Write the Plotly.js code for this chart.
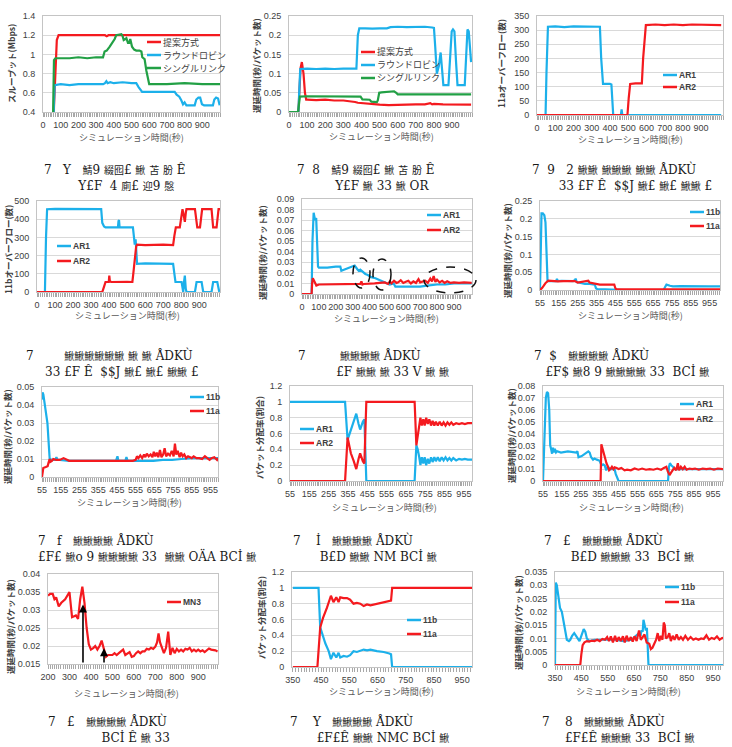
<!DOCTYPE html>
<html>
<head>
<meta charset="utf-8">
<script src="https://cdn.plot.ly/plotly-3.0.1.min.js"></script>
<style>html,body{margin:0;padding:0;background:#fff}#chart{width:732px;height:747px}</style>
</head>
<body>
<div id="chart"></div>
<script>
// ---------- series names ----------
const NAME_PROPOSED = '提案方式';
const NAME_RR = 'ラウンドロビン';
const NAME_SINGLE = 'シングルリンク';
const NAME_AR1 = 'AR1', NAME_AR2 = 'AR2', NAME_11B = '11b', NAME_11A = '11a', NAME_MN3 = 'MN3';

// ---------- tick labels ----------
const TICKS_0 = [0, 100, 200, 300, 400, 500, 600, 700, 800, 900];
const TICKS_55 = [55, 155, 255, 355, 455, 555, 655, 755, 855, 955];
const TICKS_200 = [200, 300, 400, 500, 600, 700, 800, 900];
const TICKS_350 = [350, 450, 550, 650, 750, 850, 950];

// ---------- (a) throughput [time(s), Mbps] ----------
const thrProposed = [[0,0],[58,0],[62,0.45],[70,0.9],[78,1.15],[88,1.2],[150,1.2],[200,1.2],[250,1.2],[300,1.2],[350,1.2],[360,1.19],[370,1.2],[400,1.2],[500,1.2],[600,1.2],[700,1.2],[800,1.2],[900,1.2],[1000,1.2]];
const thrRoundRobin = [[0,0],[57,0],[62,0.5],[66,0.68],[100,0.69],[150,0.68],[200,0.69],[250,0.69],[300,0.69],[340,0.69],[350,0.7],[358,0.72],[365,0.7],[380,0.71],[400,0.7],[450,0.71],[500,0.7],[527,0.7],[540,0.66],[550,0.63],[560,0.61],[600,0.61],[650,0.61],[700,0.61],[744,0.61],[755,0.58],[770,0.56],[782,0.52],[791,0.48],[800,0.5],[810,0.47],[830,0.47],[857,0.47],[866,0.53],[878,0.55],[888,0.55],[898,0.48],[910,0.47],[930,0.47],[960,0.47],[968,0.53],[978,0.55],[989,0.54],[998,0.47]];
const thrSingle = [[0,0],[54,0],[58,0.5],[62,0.94],[70,0.96],[100,0.96],[150,0.96],[200,0.97],[250,0.96],[300,0.97],[339,0.97],[348,1.03],[360,1.04],[377,1.08],[395,1.13],[405,1.16],[414,1.2],[430,1.21],[443,1.21],[450,1.19],[456,1.15],[465,1.16],[471,1.17],[480,1.12],[487,1.12],[493,1.16],[503,1.08],[515,1.05],[527,1.04],[545,1.04],[556,1.03],[561,0.97],[574,0.95],[584,0.83],[595,0.7],[600,0.69],[700,0.69],[800,0.7],[900,0.69],[1000,0.69]];

// ---------- (b) delay [time(s), s/packet] ----------
const dlyProposed = [[0,0],[52,0],[58,0.06],[64,0.115],[71,0.13],[80,0.1],[88,0.05],[95,0.032],[100,0.032],[150,0.031],[200,0.032],[250,0.03],[300,0.03],[330,0.029],[350,0.028],[365,0.026],[380,0.024],[400,0.023],[430,0.022],[460,0.02],[500,0.019],[550,0.018],[600,0.019],[650,0.019],[700,0.02],[750,0.02],[780,0.023],[790,0.02],[800,0.021],[850,0.02],[900,0.02],[950,0.02],[1005,0.019]];
const dlyRoundRobin = [[0,0],[52,0],[57,0.06],[62,0.112],[100,0.113],[150,0.112],[200,0.113],[250,0.112],[300,0.113],[350,0.112],[372,0.113],[380,0.2],[388,0.218],[420,0.218],[460,0.217],[500,0.218],[540,0.218],[560,0.221],[600,0.222],[650,0.221],[700,0.221],[750,0.222],[790,0.22],[800,0.219],[807,0.17],[816,0.1],[827,0.12],[837,0.155],[845,0.11],[852,0.07],[880,0.07],[890,0.14],[898,0.21],[905,0.215],[913,0.21],[922,0.13],[930,0.07],[970,0.07],[978,0.15],[985,0.215],[992,0.21],[1005,0.13]];
const dlySingle = [[0,0],[50,0],[55,0.02],[60,0.04],[100,0.041],[200,0.041],[300,0.041],[395,0.04],[405,0.033],[420,0.032],[445,0.032],[455,0.027],[470,0.026],[485,0.026],[490,0.03],[498,0.05],[510,0.051],[540,0.052],[565,0.053],[580,0.054],[592,0.05],[600,0.046],[700,0.046],[800,0.046],[900,0.046],[1005,0.046]];

// ---------- (c) 11a overflow ----------
const ovfA_AR1 = [[0,0],[47,0],[52,150],[60,312],[100,313],[150,311],[200,313],[250,312],[300,313],[345,312],[352,200],[362,110],[400,110],[408,108],[418,0],[460,0],[464,20],[468,0],[500,0],[600,0],[700,0],[800,0],[900,0],[1010,0]];
const ovfA_AR2 = [[0,0],[496,0],[503,60],[511,110],[540,112],[575,112],[582,200],[597,318],[650,320],[700,318],[750,320],[800,318],[850,320],[900,319],[950,320],[1010,318]];

// ---------- (d) 11b overflow ----------
const ovfB_AR1 = [[0,0],[44,0],[50,300],[56,455],[100,457],[200,455],[300,456],[356,455],[362,380],[372,360],[380,355],[449,355],[452,390],[455,395],[458,355],[532,355],[538,300],[542,260],[547,290],[555,155],[600,157],[700,155],[755,155],[762,100],[768,55],[802,55],[807,20],[811,0],[816,60],[820,90],[825,20],[829,0],[876,0],[881,30],[885,55],[913,55],[918,20],[922,0],[968,0],[972,30],[977,55],[1000,55],[1006,20],[1011,0]];
const ovfB_AR2 = [[0,0],[362,0],[372,30],[380,55],[398,55],[401,90],[404,60],[411,55],[500,56],[529,55],[534,100],[538,150],[545,200],[550,250],[555,260],[600,258],[700,260],[755,258],[762,310],[770,355],[792,355],[800,400],[807,455],[814,420],[820,385],[826,440],[829,455],[876,455],[883,400],[889,355],[904,355],[910,400],[916,455],[968,455],[973,400],[977,355],[996,355],[1002,400],[1007,455],[1015,455]];

// ---------- (e) delay per AR ----------
const arDly_AR1 = [[0,0],[57,0],[62,0.05],[69,0.077],[75,0.072],[79,0.07],[84,0.072],[90,0.04],[95,0.026],[100,0.025],[150,0.025],[200,0.026],[227,0.026],[233,0.022],[250,0.023],[267,0.024],[290,0.025],[306,0.026],[312,0.027],[330,0.023],[336,0.022],[345,0.023],[360,0.021],[375,0.019],[390,0.018],[410,0.016],[435,0.015],[450,0.014],[464,0.013],[484,0.012],[504,0.01],[520,0.009],[543,0.01],[553,0.007],[600,0.007],[650,0.007],[700,0.007],[741,0.008],[800,0.009],[850,0.009],[900,0.01],[950,0.01],[1005,0.01]];
const arDly_AR2 = [[0,0],[57,0],[60,0.01],[64,0.015],[70,0.013],[78,0.01],[85,0.008],[100,0.009],[150,0.009],[200,0.009],[250,0.0095],[300,0.009],[330,0.009],[345,0.0095],[352,0.012],[358,0.009],[365,0.0095],[400,0.0095],[430,0.01],[460,0.0105],[490,0.011],[510,0.0095],[520,0.012],[530,0.01],[545,0.0125],[560,0.0105],[570,0.011],[585,0.013],[600,0.0105],[615,0.0115],[630,0.0125],[645,0.01],[660,0.012],[675,0.0105],[690,0.014],[700,0.011],[715,0.0115],[730,0.0125],[745,0.0105],[760,0.0145],[770,0.012],[780,0.017],[790,0.0115],[800,0.0135],[815,0.011],[830,0.0125],[845,0.0105],[860,0.012],[880,0.0105],[900,0.011],[930,0.0105],[960,0.011],[1005,0.0105]];

// ---------- (f) delay per link, AR1 ----------
const lnkDly1_11b = [[55,0],[58,0.1],[63,0.215],[70,0.215],[78,0.21],[84,0.19],[90,0.08],[95,0.025],[100,0.025],[120,0.026],[140,0.025],[145,0.031],[150,0.025],[170,0.026],[200,0.025],[230,0.025],[240,0.027],[244,0.032],[250,0.022],[270,0.02],[293,0.017],[310,0.018],[328,0.017],[346,0.015],[352,0.005],[360,0.002],[400,0.002],[450,0],[500,0],[600,0],[700,0],[712,0],[718,0.008],[726,0.015],[745,0.012],[760,0.01],[800,0.011],[850,0.01],[900,0.011],[950,0.01],[1010,0.01]];
const lnkDly1_11a = [[55,0],[60,0.002],[67,0.006],[75,0.012],[85,0.02],[99,0.026],[120,0.025],[150,0.024],[180,0.025],[210,0.024],[240,0.025],[255,0.021],[270,0.022],[290,0.023],[311,0.026],[318,0.021],[328,0.02],[340,0.019],[360,0.017],[372,0.015],[400,0.015],[449,0.015],[455,0.005],[460,0.002],[500,0.002],[600,0.002],[700,0.002],[800,0.002],[900,0.002],[1010,0.002]];

// ---------- (g) delay per link, AR2 ----------
const lnkDly2_11b = [[55,0.043],[58,0.047],[62,0.046],[70,0.04],[78,0.035],[84,0.03],[90,0.02],[96,0.01],[110,0.0095],[125,0.0095],[132,0.011],[138,0.0095],[150,0.0095],[200,0.009],[250,0.009],[300,0.009],[350,0.009],[400,0.009],[450,0.009],[458,0.0115],[463,0.009],[470,0.009],[500,0.009],[506,0.011],[512,0.009],[520,0.009],[550,0.009],[600,0.009],[650,0.009],[700,0.0095],[750,0.0095],[800,0.01],[850,0.0105],[900,0.0105],[950,0.0105],[995,0.0105]];
const lnkDly2_11a = [[55,0],[58,0.004],[62,0.005],[75,0.0055],[85,0.006],[90,0.008],[96,0.01],[100,0.0085],[108,0.009],[115,0.01],[130,0.0095],[150,0.0095],[170,0.0105],[200,0.009],[250,0.009],[300,0.009],[350,0.009],[400,0.009],[450,0.0092],[500,0.009],[540,0.009],[555,0.0095],[562,0.0115],[570,0.0105],[580,0.012],[590,0.0105],[600,0.0125],[607,0.011],[615,0.013],[625,0.0115],[635,0.0125],[645,0.011],[652,0.014],[660,0.0115],[668,0.0135],[676,0.011],[685,0.015],[693,0.011],[702,0.0125],[710,0.016],[718,0.0115],[728,0.013],[738,0.012],[748,0.0145],[758,0.0115],[765,0.0185],[772,0.0125],[780,0.0145],[790,0.011],[798,0.0135],[806,0.0115],[815,0.0125],[825,0.0105],[835,0.0115],[845,0.011],[855,0.0105],[865,0.0115],[880,0.0105],[895,0.0105],[910,0.01],[925,0.0115],[940,0.0105],[950,0.0095],[960,0.0105],[975,0.011],[990,0.0095],[995,0.0105]];

// ---------- (h) packet distribution ratio per AR ----------
const share_AR1 = [[55,1],[340,1],[353,0.52],[370,0.65],[385,0.75],[398,0.85],[410,0.72],[418,0.65],[432,0.75],[440,0.78],[450,0],[700,0],[709,0.45],[716,0.4],[724,0.3],[730,0.2],[737,0.3],[745,0.22],[752,0.3],[760,0.2],[768,0.28],[776,0.22],[785,0.3],[793,0.24],[802,0.3],[810,0.25],[820,0.3],[830,0.25],[840,0.3],[850,0.26],[860,0.3],[870,0.26],[880,0.29],[890,0.26],[900,0.29],[915,0.26],[930,0.28],[945,0.27],[960,0.28],[975,0.27],[997,0.27]];
const share_AR2 = [[55,0],[340,0],[353,0.55],[370,0.35],[385,0.25],[398,0.15],[410,0.28],[418,0.35],[432,0.25],[440,0.22],[450,1],[700,1],[709,0.45],[716,0.6],[724,0.7],[730,0.8],[737,0.7],[745,0.78],[752,0.7],[760,0.8],[768,0.72],[776,0.78],[785,0.7],[793,0.76],[802,0.7],[810,0.75],[820,0.7],[830,0.75],[840,0.7],[850,0.74],[860,0.7],[870,0.74],[880,0.71],[890,0.74],[900,0.71],[915,0.73],[930,0.72],[945,0.73],[960,0.72],[975,0.73],[997,0.73]];

// ---------- (i) delay per AR, second scenario ----------
const arDly2_AR1 = [[55,0],[60,0.03],[64,0.055],[70,0.07],[76,0.075],[82,0.074],[88,0.06],[93,0.03],[98,0.027],[103,0.023],[108,0.028],[112,0.024],[118,0.027],[124,0.024],[130,0.025],[150,0.024],[187,0.025],[231,0.024],[237,0.025],[243,0.02],[260,0.021],[275,0.023],[295,0.025],[302,0.024],[310,0.02],[320,0.018],[328,0.019],[340,0.018],[355,0.017],[365,0.013],[373,0.014],[382,0.013],[390,0.009],[398,0.012],[410,0.01],[434,0.01],[440,0.006],[455,0],[717,0],[722,0.012],[727,0.015],[735,0.013],[743,0.012],[750,0.01],[800,0.01],[850,0.01],[900,0.01],[950,0.01],[1008,0.01]];
const arDly2_AR2 = [[55,0],[360,0],[364,0.031],[373,0.025],[382,0.02],[391,0.015],[399,0.012],[405,0.009],[412,0.01],[420,0.012],[428,0.01],[434,0.0115],[445,0.011],[455,0.01],[470,0.011],[487,0.009],[500,0.0095],[520,0.009],[540,0.0105],[560,0.0095],[580,0.0105],[600,0.0095],[620,0.01],[640,0.0095],[660,0.0105],[680,0.0095],[695,0.011],[708,0.012],[716,0.008],[725,0.005],[733,0.007],[742,0.009],[750,0.011],[760,0.009],[769,0.015],[775,0.009],[785,0.012],[795,0.01],[805,0.012],[815,0.0095],[830,0.0105],[845,0.01],[860,0.0105],[880,0.0095],[900,0.0105],[920,0.01],[940,0.0105],[960,0.0095],[980,0.0105],[1008,0.01]];

// ---------- (j) MN3 delay ----------
const mn3Delay = [[200,0.034],[210,0.0345],[222,0.0345],[230,0.033],[238,0.0335],[243,0.0325],[250,0.031],[262,0.032],[280,0.033],[300,0.035],[312,0.028],[330,0.0285],[340,0.0275],[350,0.033],[360,0.0365],[370,0.032],[380,0.025],[390,0.0205],[400,0.019],[412,0.0195],[420,0.02],[430,0.019],[440,0.02],[450,0.0215],[460,0.019],[470,0.017],[480,0.0175],[500,0.0175],[510,0.018],[520,0.0175],[530,0.018],[540,0.0185],[550,0.019],[560,0.0175],[570,0.018],[580,0.0183],[590,0.017],[600,0.0172],[610,0.018],[620,0.0185],[630,0.018],[640,0.0185],[650,0.0185],[660,0.0192],[670,0.019],[680,0.0195],[690,0.0192],[700,0.0198],[708,0.021],[715,0.0235],[722,0.021],[730,0.0195],[740,0.018],[750,0.0195],[760,0.024],[770,0.0175],[780,0.0195],[790,0.018],[800,0.0192],[810,0.0185],[820,0.019],[830,0.0185],[840,0.0192],[850,0.019],[860,0.0195],[870,0.0185],[880,0.019],[890,0.0185],[900,0.019],[910,0.0185],[920,0.0188],[930,0.0183],[940,0.0188],[950,0.0193],[960,0.019],[970,0.019],[980,0.0188],[990,0.0185]];
// arrow markers on the MN3 curve [time, delay at tip]
const mn3Marks = [[363, 0.0315], [461, 0.0194]];

// ---------- (k) packet distribution ratio per link ----------
const linkShare_11b = [[350,1],[441,1],[447,0.5],[457,0.38],[465,0.3],[477,0.2],[485,0.1],[494,0.18],[504,0.12],[512,0.18],[518,0.12],[530,0.14],[542,0.13],[553,0.15],[565,0.2],[577,0.19],[589,0.21],[601,0.22],[613,0.21],[625,0.22],[648,0.2],[672,0.19],[692,0.17],[698,0.16],[702,0],[1000,0]];
const linkShare_11a = [[350,0],[437,0],[447,0.5],[457,0.62],[471,0.75],[485,0.9],[494,0.82],[504,0.88],[512,0.82],[518,0.88],[530,0.87],[542,0.87],[553,0.85],[565,0.8],[577,0.81],[589,0.8],[601,0.77],[613,0.79],[625,0.78],[648,0.8],[672,0.82],[692,0.83],[698,0.84],[702,1],[1000,1]];

// ---------- (l) delay per link ----------
const linkDly_11b = [[350,0],[353,0.031],[357,0.03],[363,0.025],[366,0.022],[369,0.0215],[376,0.02],[385,0.015],[395,0.0095],[403,0.009],[408,0.0095],[415,0.011],[423,0.012],[433,0.0105],[443,0.009],[452,0.0115],[459,0.0135],[465,0.0125],[471,0.01],[480,0.009],[500,0.0095],[520,0.0095],[550,0.0095],[580,0.0095],[610,0.009],[640,0.0095],[669,0.012],[675,0.011],[678,0.013],[683,0.0125],[686,0.017],[690,0.015],[695,0.013],[699,0.014],[702,0.005],[705,0],[1000,0]];
const linkDly_11a = [[350,0],[446,0],[450,0.004],[455,0.0075],[462,0.0085],[471,0.009],[480,0.0088],[490,0.0092],[500,0.009],[510,0.0095],[520,0.009],[530,0.0098],[540,0.0095],[548,0.0105],[555,0.009],[562,0.0108],[570,0.0085],[578,0.011],[585,0.0088],[592,0.0105],[600,0.009],[608,0.0108],[615,0.0085],[622,0.011],[630,0.009],[638,0.0105],[645,0.0088],[652,0.0108],[660,0.009],[669,0.013],[676,0.0095],[683,0.0105],[690,0.0115],[698,0.0085],[708,0.008],[714,0.006],[720,0.0065],[727,0.008],[734,0.0095],[740,0.012],[746,0.009],[752,0.011],[758,0.0095],[763,0.016],[767,0.015],[771,0.01],[778,0.0105],[784,0.012],[790,0.009],[797,0.011],[804,0.0095],[812,0.0115],[820,0.0095],[828,0.0105],[836,0.0095],[845,0.011],[855,0.0095],[865,0.0105],[875,0.0095],[885,0.01],[895,0.0095],[905,0.01],[915,0.0098],[925,0.0112],[935,0.0095],[945,0.0102],[955,0.0098],[965,0.0108],[975,0.0095],[985,0.0102],[995,0.0098]];

// ---------- axis titles ----------
const X_TITLE = 'シミュレーション時間(秒)';
const Y_THROUGHPUT = 'スループット(Mbps)';
const Y_DELAY = '遅延時間(秒/パケット数)';
const Y_OVF_A = '11aオーバーフロー(数)';
const Y_OVF_B = '11bオーバーフロー(数)';
const Y_SHARE = 'パケット分配率(割合)';

// ---------- figure captions: number, first line, second line ----------
const CAPTION_TEXT = [
  ['7', 'Y\u00a0\u00a0\u00a0鯖9 綴囮£ 鰍 苫 肦 Ê', 'Y£F\u00a0 4 廁£ 迎9 慇'],
  ['7', '8\u00a0\u00a0\u00a0鯖9 綴囮£ 鰍 苫 肦 Ê', 'Y£F 鰍 33 鰍 OR'],
  ['7', '9\u00a0\u00a0\u00a02 鰍鰍 鰍鰍鰍 鰍鰍 ÅDKÙ', '33 £F Ê\u00a0 $$J 鰍£ 鰍£ 鰍鰍 £'],
  ['7', '鰍鰍鰍鰍鰍鰍 鰍 鰍 ÅDKÙ', '33 £F Ê\u00a0 $$J 鰍£ 鰍£ 鰍鰍 £'],
  ['7', '鰍鰍鰍鰍 ÅDKÙ', '£F 鰍鰍 鰍 33 V 鰍 鰍'],
  ['7', '$\u00a0\u00a0 鰍鰍鰍鰍 ÅDKÙ', '£F$ 鰍8 9 鰍鰍鰍鰍 33\u00a0 BCİ 鰍'],
  ['7', 'f\u00a0\u00a0 鰍鰍鰍鰍 ÅDKÙ', '£F£ 鰍o 9 鰍鰍鰍鰍 33\u00a0 鰍鰍 OÄA BCİ 鰍'],
  ['7', 'İ\u00a0\u00a0 鰍鰍鰍鰍 ÅDKÙ', 'B£D 鰍鰍 NM BCİ 鰍'],
  ['7', '£\u00a0\u00a0 鰍鰍鰍鰍 ÅDKÙ', 'B£D 鰍鰍鰍 33\u00a0 BCİ 鰍'],
  ['7', '£\u00a0\u00a0 鰍鰍鰍鰍 ÅDKÙ', 'BCİ Ê 鰍 33'],
  ['7', 'Y\u00a0\u00a0 鰍鰍鰍鰍 ÅDKÙ', '£F£Ê 鰍鰍 NMC BCİ 鰍'],
  ['7', '8\u00a0\u00a0 鰍鰍鰍鰍 ÅDKÙ', '£F£Ê 鰍鰍鰍 33\u00a0 BCİ 鰍']
];

// ---------- styling ----------
const W = 732, H = 747;
const RED = '#f41a1f', BLUE = '#1cb0ea', GREEN = '#22a045';
const FRAME = '#c4c4c4', GRID = '#d9d9d9', TICKC = '#a8a8a8', TXT = '#404040';
const TICKFONT = {family: 'Liberation Sans, Arial, sans-serif', size: 9, color: TXT};
const JP = 'Noto Sans CJK JP, sans-serif';
const CAP_SIZE = 12;
const NBSP_W = CAP_SIZE * 0.318;   // width of a no-break space in DejaVu Serif

// panel geometry (pixel boxes: left, right, top, bottom) and label placement
const panels = [
  {box:[43,220,16,112], xr:[0,1000], xt:TICKS_0, yr:[0.4,1.4], dy:0.2, yt:Y_THROUGHPUT, ytp:[11,64], xtp:[131,137],
   series:[[thrProposed,NAME_PROPOSED,RED],[thrRoundRobin,NAME_RR,BLUE],[thrSingle,NAME_SINGLE,GREEN]],
   leg:{x:147, ys:[42,55,68], jp:true}, cap:{num:43, l1:62, l2:77, y:177}},
  {box:[289,472,16,112], xr:[0,1010], xt:TICKS_0, yr:[0,0.25], dy:0.05, yt:Y_DELAY, ytp:[256,66], xtp:[381,136],
   series:[[dlyProposed,NAME_PROPOSED,RED],[dlyRoundRobin,NAME_RR,BLUE],[dlySingle,NAME_SINGLE,GREEN]],
   leg:{x:361, ys:[52,65,78], jp:true}, cap:{num:296, l1:313, l2:334, y:177}},
  {box:[537,723,16,115], xr:[0,1020], xt:TICKS_0, yr:[0,350], dy:50, yt:Y_OVF_A, ytp:[501,64], xtp:[630,139],
   series:[[ovfA_AR1,NAME_AR1,BLUE],[ovfA_AR2,NAME_AR2,RED]],
   leg:{x:663, ys:[75,87]}, cap:{num:531, l1:548, l2:556, y:177}},
  {box:[37,220,201,292], xr:[0,1015], xt:TICKS_0, yr:[0,500], dy:100, yt:Y_OVF_B, ytp:[8,250], xtp:[127,316],
   series:[[ovfB_AR1,NAME_AR1,BLUE],[ovfB_AR2,NAME_AR2,RED]],
   leg:{x:57, ys:[246,261]}, cap:{num:25, l1:62, l2:45, y:363}},
  {box:[302,472,199,294], xr:[0,1007], xt:TICKS_0, yr:[0,0.09], dy:0.01, yt:Y_DELAY, ytp:[262,253], xtp:[386,318],
   series:[[arDly_AR1,NAME_AR1,BLUE],[arDly_AR2,NAME_AR2,RED]],
   leg:{x:427, ys:[215,230]}, cap:{num:297, l1:339, l2:334, y:363}},
  {box:[540,720,201,290], xr:[55,1010], xt:TICKS_55, yr:[0,0.25], dy:0.05, yt:Y_DELAY, ytp:[507,251], xtp:[630,316],
   series:[[lnkDly1_11b,NAME_11B,BLUE],[lnkDly1_11a,NAME_11A,RED]],
   leg:{x:690, ys:[212,226]}, cap:{num:533, l1:550, l2:545, y:363}},
  {box:[42,218,387,477], xr:[55,995], xt:TICKS_55, yr:[0,0.05], dy:0.01, yt:Y_DELAY, ytp:[7,437], xtp:[129,502],
   series:[[lnkDly2_11b,NAME_11B,BLUE],[lnkDly2_11a,NAME_11A,RED]],
   leg:{x:190, ys:[397,411]}, cap:{num:37, l1:58, l2:37, y:548}},
  {box:[290,472,386,481], xr:[55,997], xt:TICKS_55, yr:[0,1.2], dy:0.2, yt:Y_SHARE, ytp:[259,438], xtp:[384,507],
   series:[[share_AR1,NAME_AR1,BLUE],[share_AR2,NAME_AR2,RED]],
   leg:{x:300, ys:[429,443]}, cap:{num:292, l1:316, l2:319, y:548}},
  {box:[543,723,386,481], xr:[55,1008], xt:TICKS_55, yr:[0,0.08], dy:0.01, yt:Y_DELAY, ytp:[511,436], xtp:[631,507],
   series:[[arDly2_AR1,NAME_AR1,BLUE],[arDly2_AR2,NAME_AR2,RED]],
   leg:{x:680, ys:[404,419]}, cap:{num:543, l1:563, l2:568, y:548}},
  {box:[48,218,574,664], xr:[200,992], xt:TICKS_200, yr:[0.015,0.04], dy:0.005, yt:Y_DELAY, ytp:[10,627], xtp:[126,693],
   series:[[mn3Delay,NAME_MN3,RED]],
   leg:{x:167, ys:[602]}, cap:{num:47, l1:68, l2:102, y:729}},
  {box:[292,472,572,667], xr:[347,985], xt:TICKS_350, yr:[0,1.2], dy:0.2, yt:Y_SHARE, ytp:[261,618], xtp:[381,691],
   series:[[linkShare_11b,NAME_11B,BLUE],[linkShare_11a,NAME_11A,RED]],
   leg:{x:407, ys:[620,634]}, cap:{num:289, l1:312, l2:314, y:729}},
  {box:[555,723,572,665], xr:[350,988], xt:TICKS_350, yr:[0,0.035], dy:0.005, yt:Y_DELAY, ytp:[518,623], xtp:[628,691],
   series:[[linkDly_11b,NAME_11B,BLUE],[linkDly_11a,NAME_11A,RED]],
   leg:{x:665, ys:[587,602]}, cap:{num:541, l1:563, l2:563, y:729}}
];

const px = v => v / W;
const py = v => 1 - v / H;
const shrinkCJK = s => s.replace(/([\u3400-\u9fff]+)/g, '<span style="font-size:10px">$1</span>');
const pad = n => '\u00a0'.repeat(Math.max(0, Math.round(n / NBSP_W)));

const traces = [];
const layout = {
  width: W, height: H, margin: {l:0, r:0, t:0, b:0},
  paper_bgcolor: '#fff', plot_bgcolor: '#fff', showlegend: false,
  annotations: [], shapes: []
};

panels.forEach((p, i) => {
  const s = i === 0 ? '' : String(i + 1);
  layout['xaxis' + s] = {
    domain: [px(p.box[0]), px(p.box[1])], range: p.xr, anchor: 'y' + s,
    tickmode: 'array', tickvals: p.xt, tickangle: 0, ticks: 'outside', ticklen: 4, tickcolor: TICKC,
    minor: {tickmode: 'linear', tick0: p.xt[0], dtick: 10, ticks: 'outside', ticklen: 4, tickcolor: TICKC, showgrid: false},
    showline: true, linecolor: FRAME, mirror: true, showgrid: false, zeroline: false,
    tickfont: TICKFONT, fixedrange: true
  };
  const span = p.yr[1] - p.yr[0];
  layout['yaxis' + s] = {
    domain: [py(p.box[3]), py(p.box[2])], range: [p.yr[0], p.yr[1] + span * 1e-6], anchor: 'x' + s,
    tickmode: 'linear', tick0: p.yr[0], dtick: p.dy, ticks: '', ticklabelstandoff: 5,
    showline: true, linecolor: FRAME, mirror: true, showgrid: true, gridcolor: GRID, gridwidth: 1,
    zeroline: false, tickfont: TICKFONT, fixedrange: true
  };

  p.series.forEach(([data, name, color], k) => {
    traces.push({
      type: 'scatter', mode: 'lines', name: name,
      x: data.map(d => d[0]), y: data.map(d => d[1]),
      xaxis: 'x' + s, yaxis: 'y' + s,
      line: {color: color, width: 2.2}, hoverinfo: 'skip', showlegend: false
    });
    // legend entry: short line sample followed by the series name
    const ly = p.leg.ys[k];
    layout.shapes.push({type: 'line', xref: 'paper', yref: 'paper',
      x0: px(p.leg.x), x1: px(p.leg.x + 14), y0: py(ly), y1: py(ly),
      line: {color: color, width: 2.5}});
    layout.annotations.push({xref: 'paper', yref: 'paper', x: px(p.leg.x + 15), y: py(ly),
      xanchor: 'left', yanchor: 'middle', showarrow: false, borderpad: 0,
      text: p.leg.jp ? name : '<b>' + name + '</b>',
      font: p.leg.jp ? {family: JP, size: 9, color: TXT} : {family: 'Liberation Sans, Arial, sans-serif', size: 8.5, color: TXT}});
  });

  // axis titles
  layout.annotations.push({xref: 'paper', yref: 'paper', x: px(p.ytp[0]), y: py(p.ytp[1]),
    xanchor: 'center', yanchor: 'middle', textangle: -90, showarrow: false,
    text: '<b>' + p.yt + '</b>', font: {family: JP, size: 8.5, color: TXT}});
  layout.annotations.push({xref: 'paper', yref: 'paper', x: px(p.xtp[0]), y: py(p.xtp[1]),
    xanchor: 'center', yanchor: 'middle', showarrow: false,
    text: X_TITLE, font: {family: JP, size: 9, color: '#595959'}});

  // figure caption: two lines in one text block
  const [num, line1, line2] = CAPTION_TEXT[i];
  const c = p.cap;
  const left = Math.min(c.num, c.l2);
  const numW = CAP_SIZE * 0.64;
  const text = pad(c.num - left) + num + pad(c.l1 - c.num - numW) + shrinkCJK(line1) +
               '<br>' + pad(c.l2 - left) + shrinkCJK(line2);
  layout.annotations.push({xref: 'paper', yref: 'paper', x: px(left), y: py(c.y),
    xanchor: 'left', yanchor: 'middle', align: 'left', showarrow: false, borderpad: 0,
    text: text, font: {family: 'DejaVu Serif, Noto Sans CJK JP, serif', size: CAP_SIZE, color: '#1a1a1a'}});
});

// dashed ellipses highlighting regions of the AR delay chart
[[353,370,258,288],[373,391,259,290],[424,476,267,293]].forEach(([l, r, t, b]) => {
  layout.shapes.push({type: 'circle', xref: 'paper', yref: 'paper',
    x0: px(l), x1: px(r), y0: py(b), y1: py(t),
    line: {color: '#111', width: 1.5, dash: 'dash'}});
});

// arrows pointing at the MN3 delay peaks
mn3Marks.forEach(([t, v]) => {
  layout.annotations.push({xref: 'x10', yref: 'y10', x: t, y: v, axref: 'x10', ayref: 'y10',
    ax: t, ay: 0.015, text: '', showarrow: true, arrowhead: 2, arrowsize: 1,
    arrowwidth: 1.6, arrowcolor: '#000'});
});

Plotly.newPlot('chart', traces, layout, {staticPlot: true, displayModeBar: false});
</script>
</body>
</html>
